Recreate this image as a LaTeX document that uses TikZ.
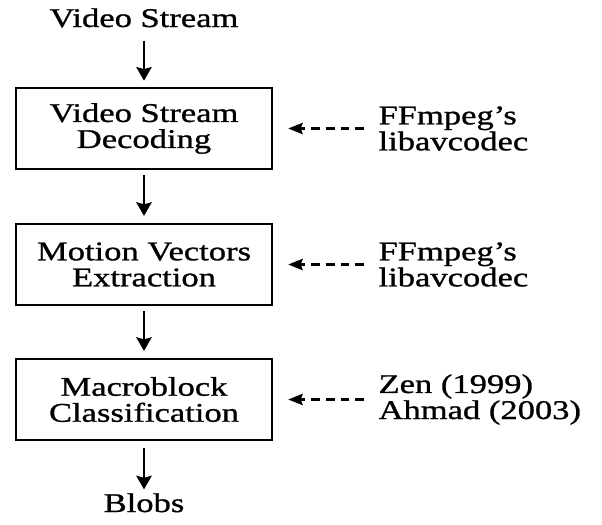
\documentclass[tikz,border=0pt]{standalone}
\usepackage{fontspec}
\setmainfont{Liberation Serif}[FakeStretch=1.28, FakeBold=1]
\usepackage{tikz}
\usetikzlibrary{arrows.meta, positioning}

\begin{document}
\begin{tikzpicture}[
    font=\fontsize{19.2}{18.5}\selectfont,
    stepbox/.style={draw, line width=1.8pt, minimum width=6.4cm, minimum height=2.025cm, align=center, inner sep=0pt},
    term/.style={inner sep=0pt, anchor=base},
    citebox/.style={inner sep=0pt, align=left},
    flow/.style={-{Stealth[length=0.34cm, width=0.38cm, inset=0.05cm]}, line width=2.1pt, shorten <=0.12cm, shorten >=0.17cm},
    feed/.style={-{Stealth[length=0.36cm, width=0.28cm, inset=0.05cm]}, line width=1.8pt, dash pattern=on 0.22cm off 0.15cm, shorten <=0.35cm, shorten >=0.375cm}
  ]
  \useasboundingbox (0, 0) rectangle (15.05, -13.1);
  \node[term] (stream) at (3.6, -0.675) {Video Stream};
  \node[stepbox] (decode) at (3.6, -3.2125) {Video Stream\\Decoding};
  \node[stepbox] (motion) at (3.6, -6.6125) {Motion Vectors\\Extraction};
  \node[stepbox] (classify) at (3.6, -9.9875) {Macroblock\\Classification};
  \node[term] (blobs) at (3.6, -12.8) {Blobs};

  \node[citebox, right=2.625cm of decode] (codec1) {FFmpeg's\\libavcodec};
  \node[citebox, right=2.625cm of motion] (codec2) {FFmpeg's\\libavcodec};
  \node[citebox, right=2.625cm of classify] (papers) {Zen (1999)\\Ahmad (2003)};

  \draw[flow, shorten <=0.325cm, shorten >=0.15cm] (stream) -- (decode);
  \draw[flow] (decode) -- (motion);
  \draw[flow] (motion) -- (classify);
  \draw[flow, shorten <=0.175cm, shorten >=0.09cm] (classify) -- (blobs);

  \draw[feed] (codec1) -- (decode);
  \draw[feed] (codec2) -- (motion);
  \draw[feed] (papers) -- (classify);
\end{tikzpicture}
\end{document}
